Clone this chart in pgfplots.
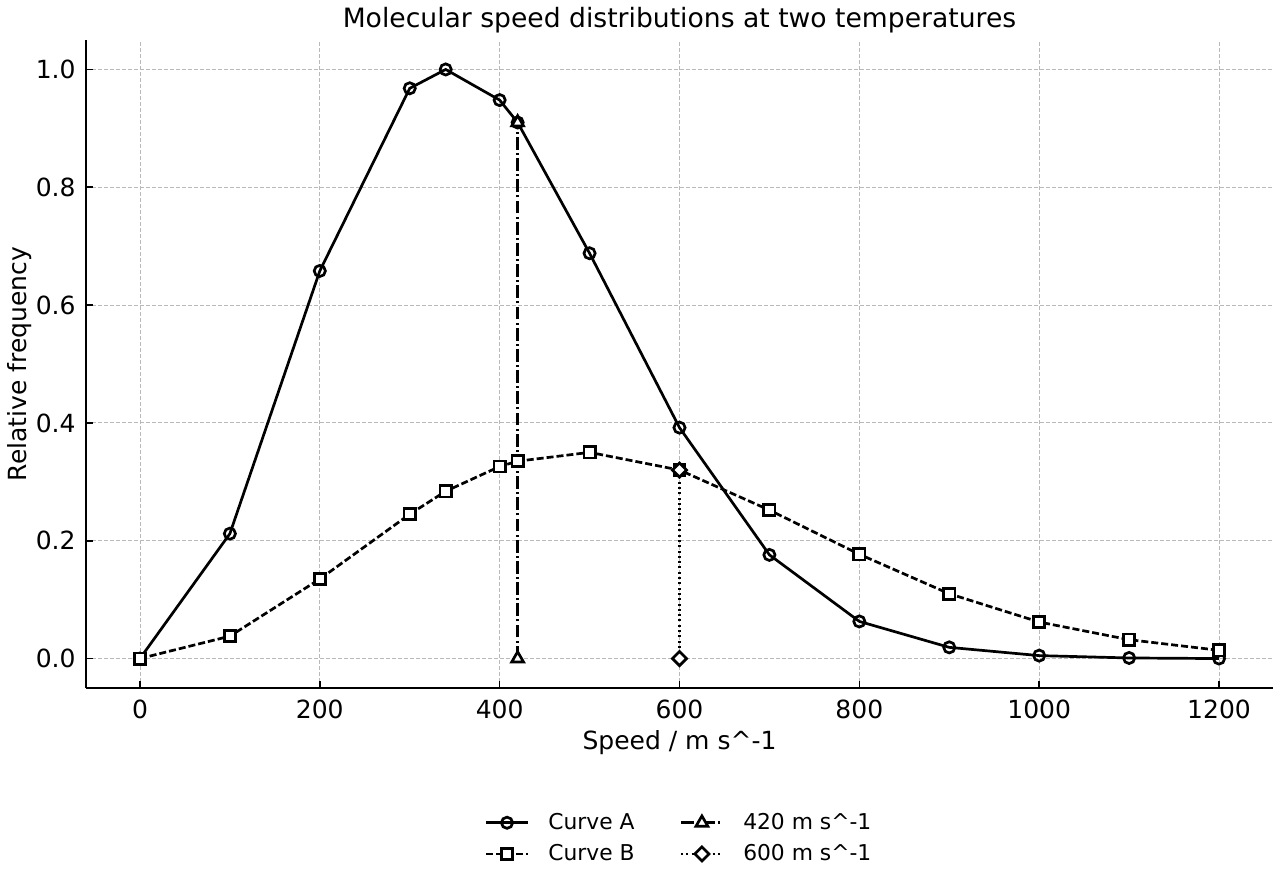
\documentclass[border=0pt]{standalone}
\usepackage{pgfplots}
\pgfplotsset{compat=1.18}
\usepackage{fontspec}
\setmainfont{DejaVu Sans}

% Curve A and Curve B: relative frequency against speed (m/s)
\pgfplotstableread{
v     f
0     0.000
100   0.212
200   0.658
300   0.968
340   1.000
400   0.948
420   0.910
500   0.688
600   0.392
700   0.176
800   0.063
900   0.019
1000  0.005
1100  0.001
1200  0.000
}\curveA
\pgfplotstableread{
v     f
0     0.000
100   0.038
200   0.135
300   0.245
340   0.284
400   0.326
420   0.335
500   0.350
600   0.320
700   0.252
800   0.177
900   0.110
1000  0.062
1100  0.032
1200  0.014
}\curveB

\begin{document}
\begin{tikzpicture}
\path[use as bounding box] (-43pt,-96pt) rectangle (597pt,344pt);
\begin{axis}[
  at={(0,0)}, anchor=south west,
  scale only axis, width=593.5pt, height=324pt,
  xmin=-60, xmax=1260, ymin=-0.05, ymax=1.05,
  axis x line*=bottom, axis y line*=left,
  axis line style={line width=1pt},
  tick align=inside,
  major tick length=3.5pt,
  every tick/.style={black, line width=0.8pt},
  xtick={0,200,...,1200},
  ytick={0,0.2,0.4,0.6,0.8,1.0},
  /pgf/number format/assume math mode=true,
  /pgf/number format/1000 sep={},
  yticklabel style={/pgf/number format/fixed, /pgf/number format/fixed zerofill, /pgf/number format/precision=1,
    font=\fontsize{12.5}{15}\selectfont, inner sep=0pt, anchor=east, xshift=-5pt},
  xticklabel style={font=\fontsize{12.5}{15}\selectfont, inner sep=0pt, anchor=north, yshift=-6pt},
  grid=major,
  major grid style={gray!55, line width=0.45pt, dash pattern=on 2pt off 1pt},
  every axis title shift=0pt,
  title={Molecular speed distributions at two temperatures},
  title style={font=\fontsize{13.3}{16}\selectfont, at={(axis description cs:0.5,1.02)}, anchor=base},
  xlabel={Speed / m s\textasciicircum-1},
  xlabel style={font=\fontsize{12.5}{15}\selectfont, at={(axis description cs:0.5,-0.095)}, anchor=base},
  ylabel={Relative frequency},
  ylabel style={font=\fontsize{12.5}{15}\selectfont, at={(axis description cs:-0.0505,0.5)}, rotate=0, anchor=base},
  legend columns=2,
  transpose legend,
  legend style={at={(axis description cs:0.5,-0.232)}, anchor=center, draw=none, fill=none,
    font=\fontsize{10.9}{13}\selectfont, row sep=2pt,
    nodes={inner xsep=1.5pt},
    /tikz/every even column/.append style={column sep=21pt}},
  % short line with the mark in the middle, plus some room before the text
  legend image code/.code={\draw[mark repeat=2, mark phase=2, #1] plot coordinates {(0pt,0pt) (10.5pt,0pt) (21pt,0pt)};
    \path (29pt,0pt);},
  every axis plot/.append style={line width=1.35pt, black},
]
\addplot[mark=o, mark size=2.8pt, mark options={solid, fill=white}] table[x=v, y=f] {\curveA};
\addlegendentry{Curve A}
\addplot[dash pattern=on 3.5pt off 1.5pt, mark=square*, mark size=2.8pt, mark options={solid, fill=white}] table[x=v, y=f] {\curveB};
\addlegendentry{Curve B}
\addplot[dash pattern=on 6.4pt off 1.6pt on 1pt off 1.6pt, mark=triangle*, mark size=3.4pt, mark options={solid, fill=white}] coordinates {(420,0) (420,0.910)};
\addlegendentry{420 m s\textasciicircum-1}
\addplot[dash pattern=on 1pt off 1.65pt, mark=square*, mark size=2.5pt, mark options={solid, fill=white, rotate=45}] coordinates {(600,0) (600,0.320)};
\addlegendentry{600 m s\textasciicircum-1}
\end{axis}
\end{tikzpicture}
\end{document}
